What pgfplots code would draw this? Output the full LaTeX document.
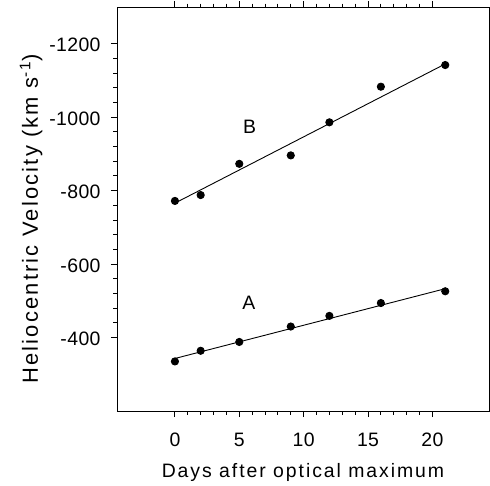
\documentclass[border=0pt]{standalone}
\usepackage{fontspec}
\setmainfont{Liberation Sans}[LetterSpace=10]
\newfontfamily\tickfont{Liberation Sans}[LetterSpace=2]
\usepackage{pgfplots}
\pgfplotsset{compat=1.18}
\begin{document}
\fontsize{19.5}{23}\selectfont
\begin{tikzpicture}
\path[use as bounding box] (0,0) rectangle (490bp,486bp);
\begin{axis}[
  at={(117bp,75bp)}, anchor=south west,
  width=372bp, height=404bp, scale only axis,
  line width=0.9bp,
  xmin=-4.5, xmax=24.4, ymin=-1300, ymax=-200, y dir=reverse,
  xtick={0,5,10,15,20}, xticklabels={0,5,10,15,20},
  ytick={-400,-600,-800,-1000,-1200}, yticklabels={-400,-600,-800,-1000,-1200},
  minor x tick num=4, minor y tick num=4,
  tick align=outside, tick pos=both,
  major tick length=6bp, minor tick length=3.5bp,
  tick style={line width=0.9bp, black},
  tick label style={font=\tickfont\fontsize{19.5}{23}\selectfont},
  x tick label style={anchor=center, yshift=-23bp, inner sep=0pt},
  y tick label style={anchor=east, xshift=-10bp, yshift=-1.5bp, inner sep=0pt},
  xlabel={Days after optical maximum},
  ylabel={Heliocentric Velocity (km s\textsuperscript{-1})},
  xlabel style={font=\fontsize{19.5}{23}\selectfont, at={(axis description cs:0.5,-0.151)}, anchor=center, inner sep=0pt},
  ylabel style={font=\fontsize{22}{26}\selectfont, at={(axis description cs:-0.231,0.475)}, anchor=center, inner sep=0pt},
]
\addplot[only marks, mark=*, mark size=3.6bp, black] coordinates {
  (0,-335) (2,-364) (5,-388) (9,-430) (12,-459) (16,-494) (21,-526)};
\addplot[black, line width=0.9bp] coordinates {(0,-343) (21,-533)};
\addplot[only marks, mark=*, mark size=3.6bp, black] coordinates {
  (0,-772) (2,-788) (5,-873) (9,-896) (12,-986) (16,-1083) (21,-1142)};
\addplot[black, line width=0.9bp] coordinates {(0,-766) (21,-1145)};
\node[font=\fontsize{19.5}{23}\selectfont] at (axis cs:5.8,-973) {B};
\node[font=\fontsize{19.5}{23}\selectfont] at (axis cs:5.75,-494) {A};
\end{axis}
\end{tikzpicture}
\end{document}
